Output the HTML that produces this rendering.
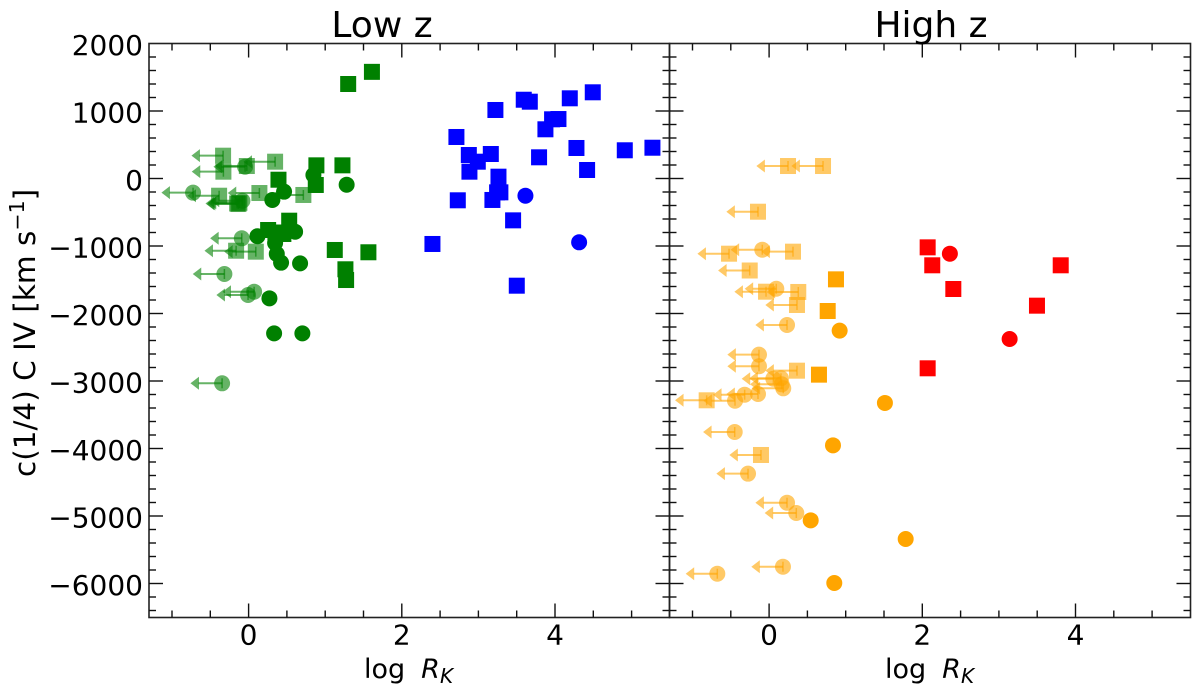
<!DOCTYPE html>
<html lang="en">
<head>
<meta charset="utf-8">
<title>c(1/4) C IV vs log R_K</title>
<style>
html,body{margin:0;padding:0;background:#fff;}
svg{display:block;}
text{font-family:"DejaVu Sans","Liberation Sans",sans-serif;fill:#000;}
</style>
</head>
<body>
<svg id="chart" xmlns="http://www.w3.org/2000/svg" width="1200" height="695" viewBox="0 0 1200 695">
  <rect x="0" y="0" width="1200" height="695" fill="#fff"/>
  <g id="marks"></g>
  <g id="axes"></g>
  <text x="382" y="37" font-size="36" text-anchor="middle">Low z</text>
  <text x="931" y="37" font-size="36" text-anchor="middle">High z</text>
  <text transform="translate(35,477) rotate(-90)" font-size="29.5">c(1/4) C IV [km s<tspan font-size="20.5" dy="-11">−1</tspan><tspan dy="11">]</tspan></text>
  <text x="364" y="678" font-size="27">log<tspan dx="16" font-style="italic">R</tspan><tspan font-size="20" font-style="italic" dy="5">K</tspan></text>
  <text x="885" y="678" font-size="27">log<tspan dx="16" font-style="italic">R</tspan><tspan font-size="20" font-style="italic" dy="5">K</tspan></text>
</svg>
<script>
// ---- data (log R_K, c(1/4) C IV in km/s) ----
const xTickLabels = [0, 2, 4];
const yTickLabels = [2000, 1000, 0, -1000, -2000, -3000, -4000, -5000, -6000];

const lowGreenSquareX = [1.30, 1.61, 0.885, 1.225, 0.39, 0.877, 0.53, 0.255, 0.454, 0.35, 1.125, 1.564, 1.264, 1.273];
const lowGreenSquareY = [1400, 1580, 195, 195, -18, -96, -625, -763, -822, -800, -1059, -1093, -1345, -1504];
const lowGreenCircleX = [0.846, 1.28, 0.463, 0.31, 0.115, 0.607, 0.346, 0.368, 0.424, 0.672, 0.272, 0.333, 0.702];
const lowGreenCircleY = [52, -92, -195, -318, -856, -788, -956, -1118, -1247, -1257, -1775, -2294, -2294];
const lowGreenLimitSquareX = [-0.333, -0.329, 0.346, -0.023, 0.141, 0.715, -0.385, -0.133, -0.15, -0.12, -0.163, 0.094];
const lowGreenLimitSquareY = [338, 101, 249, 185, -215, -244, -255, -378, -370, -360, -1070, -1084];
const lowGreenLimitCircleX = [-0.046, -0.725, -0.081, -0.089, -0.316, 0.072, -0.007, -0.346];
const lowGreenLimitCircleY = [175, -210, -329, -886, -1415, -1677, -1726, -3034];

const lowBlueSquareX = [2.713, 3.222, 3.592, 3.671, 4.193, 4.493, 3.962, 4.045, 3.875, 4.28, 4.911, 5.272, 3.792, 4.419, 2.875, 2.992, 3.162, 2.883, 3.262, 3.287, 3.244, 3.183, 2.731, 3.453, 2.4, 3.501];
const lowBlueSquareY = [615, 1015, 1167, 1138, 1188, 1277, 877, 881, 729, 452, 418, 456, 314, 126, 348, 249, 363, 101, 27, -205, -205, -318, -323, -620, -970, -1588];
const lowBlueCircleX = [3.614, 4.315];
const lowBlueCircleY = [-255, -945];

const highOrangeLimitSquareX = [0.247, 0.704, -0.145, -0.523, 0.312, -0.253, -0.04, 0.381, 0.364, 0.364, -0.815, -0.106];
const highOrangeLimitSquareY = [185, 185, -492, -1114, -1084, -1363, -1677, -1681, -1874, -2847, -3286, -4096];
const highOrangeLimitCircleX = [-0.089, 0.094, 0.234, -0.132, -0.132, 0.055, 0.155, 0.164, 0.185, -0.145, -0.319, -0.445, -0.449, -0.275, 0.234, 0.355, 0.181, -0.676];
const highOrangeLimitCircleY = [-1055, -1633, -2170, -2610, -2782, -2966, -2960, -3049, -3108, -3193, -3203, -3292, -3756, -4373, -4803, -4956, -5751, -5855];
const highOrangeSquareX = [0.873, 0.765, 0.651];
const highOrangeSquareY = [-1494, -1963, -2906];
const highOrangeCircleX = [0.921, 1.512, 0.834, 0.543, 1.783, 0.851];
const highOrangeCircleY = [-2254, -3325, -3953, -5064, -5341, -5993];
const highRedSquareX = [2.07, 2.13, 2.405, 3.807, 3.497, 2.07];
const highRedSquareY = [-1020, -1286, -1637, -1286, -1884, -2812];
const highRedCircleX = [2.36, 3.14];
const highRedCircleY = [-1114, -2378];

// ---- axis functions ----
const NS = 'http://www.w3.org/2000/svg';
const marks = document.getElementById('marks');
const axes = document.getElementById('axes');
const TOP = 43.5, BOTTOM = 617.5, X_SCALE = 76.6, Y_SCALE = 0.0675;
const LOW_PANEL = {left: 149, right: 669.5, zero: 248.6};
const HIGH_PANEL = {left: 669.5, right: 1190.5, zero: 769.1};
const scaleX = (panel, v) => panel.zero + v * X_SCALE;
const scaleY = v => 178.5 - v * Y_SCALE;
const LIMIT_ALPHA = 0.6, LIMIT_LENGTH = 0.4;

function shape(tag, attrs, parent) {
  const el = document.createElementNS(NS, tag);
  Object.keys(attrs).forEach(k => el.setAttribute(k, attrs[k]));
  parent.appendChild(el);
  return el;
}

function drawMarker(panel, vx, vy, kind, color, alpha, name) {
  const cx = scaleX(panel, vx), cy = scaleY(vy);
  let el;
  if (kind === 'square') {
    el = shape('rect', {x: cx - 8, y: cy - 8, width: 16, height: 16, fill: color, 'fill-opacity': alpha}, marks);
  } else {
    el = shape('circle', {cx: cx, cy: cy, r: 8, fill: color, 'fill-opacity': alpha}, marks);
  }
  
  
}

function drawLimit(panel, vx, vy, kind, color, name) {
  const cx = scaleX(panel, vx), cy = scaleY(vy);
  const tipX = scaleX(panel, vx - LIMIT_LENGTH) - 1;
  const bar = shape('line', {x1: cx, y1: cy, x2: tipX + 8, y2: cy, stroke: color, 'stroke-width': 2, 'stroke-opacity': LIMIT_ALPHA}, marks);
  
  
  const cap = shape('line', {x1: cx, y1: cy - 5, x2: cx, y2: cy + 5, stroke: color, 'stroke-width': 1.5, 'stroke-opacity': LIMIT_ALPHA}, marks);
  
  
  const head = shape('polygon', {points: tipX + ',' + cy + ' ' + (tipX + 8.5) + ',' + (cy - 6.5) + ' ' + (tipX + 8.5) + ',' + (cy + 6.5), fill: color, 'fill-opacity': LIMIT_ALPHA}, marks);
  
  
  drawMarker(panel, vx, vy, kind, color, LIMIT_ALPHA, name);
}

function drawSeries(panel, xs, ys, kind, color, name) {
  xs.forEach((v, i) => drawMarker(panel, v, ys[i], kind, color, 1, name));
}
function drawLimits(panel, xs, ys, kind, color, name) {
  xs.forEach((v, i) => drawLimit(panel, v, ys[i], kind, color, name));
}

drawLimits(LOW_PANEL, lowGreenLimitSquareX, lowGreenLimitSquareY, 'square', '#008000', 'green-limit-square');
drawLimits(LOW_PANEL, lowGreenLimitCircleX, lowGreenLimitCircleY, 'circle', '#008000', 'green-limit-circle');
drawSeries(LOW_PANEL, lowGreenSquareX, lowGreenSquareY, 'square', '#008000', 'green-square');
drawSeries(LOW_PANEL, lowGreenCircleX, lowGreenCircleY, 'circle', '#008000', 'green-circle');
drawSeries(LOW_PANEL, lowBlueSquareX, lowBlueSquareY, 'square', '#0000ff', 'blue-square');
drawSeries(LOW_PANEL, lowBlueCircleX, lowBlueCircleY, 'circle', '#0000ff', 'blue-circle');

drawLimits(HIGH_PANEL, highOrangeLimitSquareX, highOrangeLimitSquareY, 'square', '#ffa500', 'orange-limit-square');
drawLimits(HIGH_PANEL, highOrangeLimitCircleX, highOrangeLimitCircleY, 'circle', '#ffa500', 'orange-limit-circle');
drawSeries(HIGH_PANEL, highOrangeSquareX, highOrangeSquareY, 'square', '#ffa500', 'orange-square');
drawSeries(HIGH_PANEL, highOrangeCircleX, highOrangeCircleY, 'circle', '#ffa500', 'orange-circle');
drawSeries(HIGH_PANEL, highRedSquareX, highRedSquareY, 'square', '#ff0000', 'red-square');
drawSeries(HIGH_PANEL, highRedCircleX, highRedCircleY, 'circle', '#ff0000', 'red-circle');

// ---- axes ----
function tick(x1, y1, x2, y2, name) {
  const el = shape('line', {x1: x1, y1: y1, x2: x2, y2: y2, stroke: '#111', 'stroke-width': 1.4}, axes);
  
  
}

function drawPanel(panel, panelName) {
  const frame = shape('rect', {x: panel.left, y: TOP, width: panel.right - panel.left, height: BOTTOM - TOP, fill: 'none', stroke: '#222', 'stroke-width': 1.6}, axes);
  
  
  for (let i = -2; i <= 11; i++) {
    const v = i * 0.5;
    const x = scaleX(panel, v);
    if (x <= panel.left + 1 || x >= panel.right - 1) continue;
    const len = i % 4 === 0 ? 14 : 7;
    tick(x, BOTTOM, x, BOTTOM - len, 'x-tick');
    tick(x, TOP, x, TOP + len, 'x-tick-top');
  }
  for (let i = -32; i <= 10; i++) {
    const v = i * 200;
    const y = scaleY(v);
    if (y <= TOP + 1 || y >= BOTTOM - 1) continue;
    const len = i % 5 === 0 ? 14 : 7;
    tick(panel.left, y, panel.left + len, y, 'y-tick');
    tick(panel.right, y, panel.right - len, y, 'y-tick-right');
  }
  xTickLabels.forEach(v => {
    const t = shape('text', {x: scaleX(panel, v), y: 644.5, 'font-size': 28, 'text-anchor': 'middle'}, axes);
    t.textContent = String(v);
    
    
  });
}

drawPanel(LOW_PANEL, 'low-z-panel');
drawPanel(HIGH_PANEL, 'high-z-panel');

yTickLabels.forEach(v => {
  const t = shape('text', {x: 143, y: scaleY(v) + 11.3, 'font-size': 28, 'text-anchor': 'end'}, axes);
  t.textContent = String(v).replace('-', '\u2212');
  
  
});
</script>
</body>
</html>
